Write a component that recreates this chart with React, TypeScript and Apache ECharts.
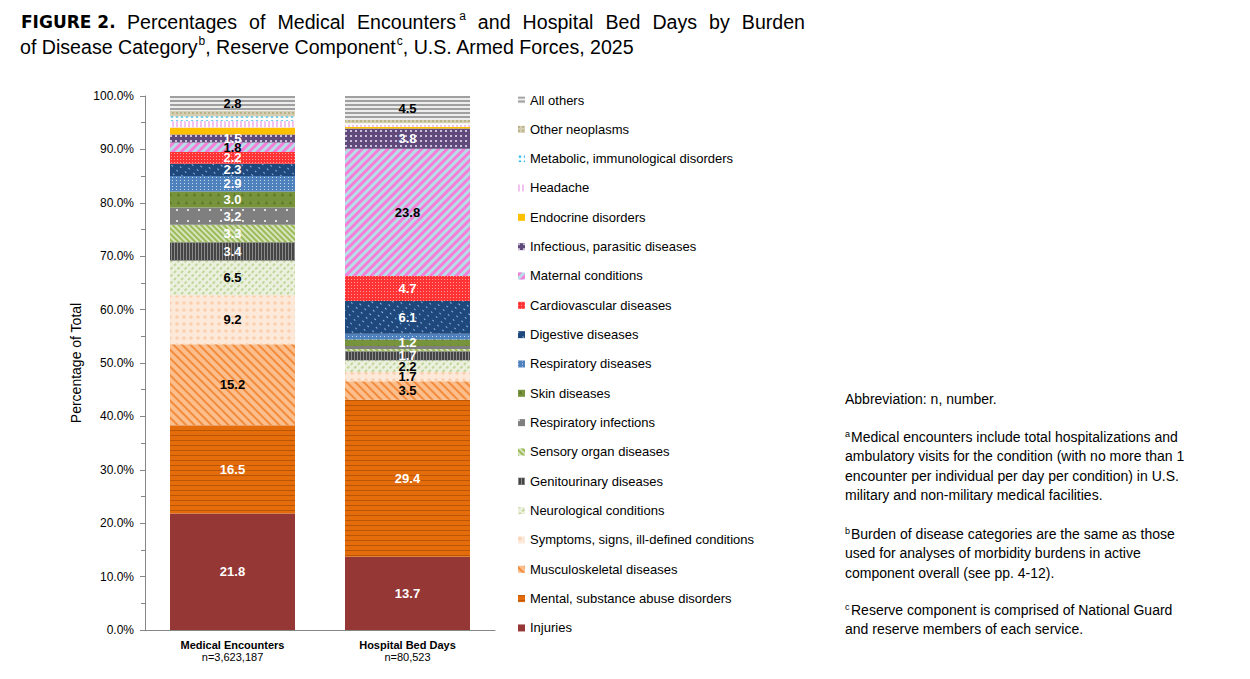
import React, { useEffect, useRef } from 'react';
import * as echarts from 'echarts';

// ---------- DATA ----------
const barCategories = ['Medical Encounters', 'Hospital Bed Days'];
const barCounts = ['n=3,623,187', 'n=80,523'];

// bottom of the stack first
const burdenCategories = [
  'Injuries',
  'Mental, substance abuse disorders',
  'Musculoskeletal diseases',
  'Symptoms, signs, ill-defined conditions',
  'Neurological conditions',
  'Genitourinary diseases',
  'Sensory organ diseases',
  'Respiratory infections',
  'Skin diseases',
  'Respiratory diseases',
  'Digestive diseases',
  'Cardiovascular diseases',
  'Maternal conditions',
  'Infectious, parasitic diseases',
  'Endocrine disorders',
  'Headache',
  'Metabolic, immunological disorders',
  'Other neoplasms',
  'All others',
];

const medicalEncounters = [21.8, 16.5, 15.2, 9.2, 6.5, 3.4, 3.3, 3.2, 3.0, 2.9, 2.3, 2.2, 1.8, 1.5, 1.3, 1.2, 0.9, 1.0, 2.8];
const hospitalBedDays = [13.7, 29.4, 3.5, 1.7, 2.2, 1.7, 0.4, 0.6, 1.2, 1.1, 6.1, 4.7, 23.8, 3.8, 0.3, 0.4, 0.3, 0.6, 4.5];

const unlabeledCategories = ['Endocrine disorders', 'Headache', 'Metabolic, immunological disorders', 'Other neoplasms'];
const blackLabelCategories = ['Musculoskeletal diseases', 'Symptoms, signs, ill-defined conditions', 'Neurological conditions', 'Maternal conditions', 'All others'];

const titleLine1Words = ['Percentages', 'of', 'Medical', 'Encounters', '^a', 'and', 'Hospital', 'Bed', 'Days', 'by', 'Burden'];
const titleLine2Parts = ['of Disease Category', '^b', ', Reserve Component', '^c', ', U.S. Armed Forces, 2025'];

const notes = [
  { sup: '', lines: ['Abbreviation: n, number.'] },
  {
    sup: 'a',
    lines: [
      'Medical encounters include total hospitalizations and',
      'ambulatory visits for the condition (with no more than 1',
      'encounter per individual per day per condition) in U.S.',
      'military and non-military medical facilities.',
    ],
  },
  {
    sup: 'b',
    lines: [
      'Burden of disease categories are the same as those',
      'used for analyses of morbidity burdens in active',
      'component overall (see pp. 4-12).',
    ],
  },
  { sup: 'c', lines: ['Reserve component is comprised of National Guard', 'and reserve members of each service.'] },
];

// ---------- STYLES ----------
const FONT = '"Liberation Sans", Arial, sans-serif';
const PI = Math.PI;

const styles: Record<string, { color: string; decal?: any }> = {
  'Injuries': { color: '#953735' },
  'Mental, substance abuse disorders': { color: '#E46C0A', decal: { color: '#B95607', dashArrayX: [1, 0], dashArrayY: [1, 4] } },
  'Musculoskeletal diseases': { color: '#FBBE8C', decal: { color: '#F28C3C', dashArrayX: [1, 0], dashArrayY: [1.8, 3.5], rotation: PI / 4 } },
  'Symptoms, signs, ill-defined conditions': { color: '#FDE9D9', decal: { symbol: 'circle', color: '#FBD0B0', symbolSize: 0.9, dashArrayX: [4, 3], dashArrayY: [4, 3] } },
  'Neurological conditions': { color: '#EBF1DE', decal: { color: '#C3D69B', dashArrayX: [3, 2], dashArrayY: [1.5, 3], rotation: -PI / 4 } },
  'Genitourinary diseases': { color: '#454545', decal: { color: '#8A8A8A', dashArrayX: [1, 2], dashArrayY: [4, 0] } },
  'Sensory organ diseases': { color: '#D7E4BD', decal: { color: '#9BBB59', dashArrayX: [1, 0], dashArrayY: [1.2, 2], rotation: PI / 4 } },
  'Respiratory infections': { color: '#7F7F7F', decal: { color: '#E0E0E0', dashArrayX: [1.5, 8.5], dashArrayY: [1.5, 8.5] } },
  'Skin diseases': { color: '#77933C', decal: { symbol: 'triangle', color: '#5E7A28', symbolSize: 0.7, dashArrayX: [5, 3], dashArrayY: [5, 3] } },
  'Respiratory diseases': { color: '#4F81BD', decal: { color: '#C5D9F1', dashArrayX: [1, 3], dashArrayY: [1, 2] } },
  'Digestive diseases': { color: '#1F497D', decal: { color: '#8DB4E2', dashArrayX: [2, 5], dashArrayY: [1, 4], rotation: PI / 4 } },
  'Cardiovascular diseases': { color: '#FF3333', decal: { color: '#FF9A9A', dashArrayX: [1, 2], dashArrayY: [1, 2] } },
  'Maternal conditions': { color: '#B7DEE8', decal: { color: '#F57FD8', dashArrayX: [1, 0], dashArrayY: [2.5, 3], rotation: -PI / 4 } },
  'Infectious, parasitic diseases': { color: '#604A7B', decal: { color: '#CCC0DA', dashArrayX: [2, 3], dashArrayY: [2, 3] } },
  'Endocrine disorders': { color: '#FFC000' },
  'Headache': { color: '#FFFFFF', decal: { color: '#F4C2EE', dashArrayX: [1.5, 2], dashArrayY: [4, 0] } },
  'Metabolic, immunological disorders': { color: '#FFFFFF', decal: { symbol: 'circle', color: '#33BDF2', symbolSize: 0.9, dashArrayX: [4, 1], dashArrayY: [3, 2] } },
  'Other neoplasms': { color: '#D4CFB2', decal: { color: '#B9B187', dashArrayX: [2, 2], dashArrayY: [2, 2] } },
  'All others': { color: '#EDEDED', decal: { color: '#A0A0A0', dashArrayX: [1, 0], dashArrayY: [1.5, 1.5] } },
};

function mkDecal(d: any) {
  if (!d) return undefined;
  return { symbol: 'rect', symbolSize: 1, maxTileWidth: 128, maxTileHeight: 128, ...d };
}

let measureCtx: CanvasRenderingContext2D | null = null;
function textWidth(text: string, font: string) {
  if (!measureCtx) measureCtx = document.createElement('canvas').getContext('2d');
  measureCtx!.font = font;
  return measureCtx!.measureText(text).width;
}

function buildGraphics() {
  const els: any[] = [];
  const titleFont = `19.6px ${FONT}`;
  const supFont = `12px ${FONT}`;
  // FIGURE 2.
  els.push({
    type: 'text', x: 21, y: 22,
    style: { text: 'FIGURE 2.', font: `bold 17px "DejaVu Sans", sans-serif`, fill: '#000', align: 'left', verticalAlign: 'middle' },
  });
  // line 1 justified between 127 and 805
  const x0 = 127, x1 = 805;
  const widths = titleLine1Words.map((w) => (w.startsWith('^') ? textWidth(w.slice(1), supFont) + 3 : textWidth(w, titleFont)));
  const total = widths.reduce((a, b) => a + b, 0);
  const nGaps = titleLine1Words.filter((w) => !w.startsWith('^')).length - 1;
  const gap = (x1 - x0 - total) / nGaps;
  let x = x0;
  titleLine1Words.forEach((w, i) => {
    if (w.startsWith('^')) {
      els.push({ type: 'text', x: x - gap + 3, y: 16, style: { text: w.slice(1), font: supFont, fill: '#000', align: 'left', verticalAlign: 'middle' } });
      x += widths[i];
    } else {
      els.push({ type: 'text', x, y: 22, style: { text: w, font: titleFont, fill: '#000', align: 'left', verticalAlign: 'middle' } });
      x += widths[i] + gap;
    }
  });
  // line 2
  let x2 = 20;
  titleLine2Parts.forEach((p) => {
    if (p.startsWith('^')) {
      const t = p.slice(1);
      els.push({ type: 'text', x: x2 + 1, y: 41, style: { text: t, font: supFont, fill: '#000', align: 'left', verticalAlign: 'middle' } });
      x2 += textWidth(t, supFont) + 1;
    } else {
      els.push({ type: 'text', x: x2, y: 47, style: { text: p, font: titleFont, fill: '#000', align: 'left', verticalAlign: 'middle' } });
      x2 += textWidth(p, titleFont);
    }
  });
  // notes
  const noteFont = `14px ${FONT}`;
  const noteSup = `9px ${FONT}`;
  const noteStarts = [399, 437, 534, 610];
  const lh = 19.3;
  notes.forEach((n, k) => {
    n.lines.forEach((line, j) => {
      const y = noteStarts[k] + j * lh;
      let lx = 845;
      if (j === 0 && n.sup) {
        els.push({ type: 'text', x: 845, y: y - 3, style: { text: n.sup, font: noteSup, fill: '#000', align: 'left', verticalAlign: 'middle' } });
        lx = 851;
      }
      els.push({ type: 'text', x: lx, y, style: { text: line, font: noteFont, fill: '#000', align: 'left', verticalAlign: 'middle' } });
    });
  });
  return els;
}

function buildOption(): any {
  const series = burdenCategories.map((name, i) => {
    const st = styles[name];
    const labelColor = blackLabelCategories.includes(name) ? '#000' : '#fff';
    return {
      name,
      type: 'bar',
      stack: 'total',
      barWidth: 125,
      emphasis: { disabled: true },
      itemStyle: { color: st.color, decal: mkDecal(st.decal) },
      label: {
        show: true,
        position: 'inside',
        color: labelColor,
        fontFamily: FONT,
        fontWeight: 'bold',
        fontSize: 13,
        formatter: (p: any) => Number(p.value).toFixed(1),
      },
      data: [medicalEncounters[i], hospitalBedDays[i]].map((v) => ({
        value: v,
        label: { show: !unlabeledCategories.includes(name) && v >= 1.15 },
      })),
    };
  });

  return {
    animation: false,
    backgroundColor: '#fff',
    textStyle: { fontFamily: FONT },
    grid: { left: 145, top: 96, width: 350, height: 534, containLabel: false },
    legend: {
      orient: 'vertical',
      left: 513,
      top: 87,
      itemWidth: 7,
      itemHeight: 7,
      itemGap: 13.33,
      icon: 'rect',
      selectedMode: false,
      data: [...burdenCategories].reverse(),
      textStyle: { fontFamily: FONT, fontSize: 13, color: '#000', lineHeight: 16 },
    },
    xAxis: {
      type: 'category',
      data: barCategories,
      axisLine: { show: true, lineStyle: { color: '#868686', width: 1 } },
      axisTick: { show: false },
      axisLabel: {
        margin: 9,
        interval: 0,
        formatter: (v: string, i: number) => `{b|${v}}\n{n|${barCounts[i]}}`,
        rich: {
          b: { fontFamily: FONT, fontWeight: 'bold', fontSize: 11, lineHeight: 12, color: '#000' },
          n: { fontFamily: FONT, fontSize: 11, lineHeight: 12, color: '#000' },
        },
      },
    },
    yAxis: {
      type: 'value',
      min: 0,
      max: 100,
      interval: 10,
      name: 'Percentage of Total',
      nameLocation: 'middle',
      nameGap: 62,
      nameTextStyle: { fontFamily: FONT, fontSize: 14, color: '#000' },
      axisLine: { show: true, lineStyle: { color: '#868686', width: 1 } },
      axisTick: { show: true, inside: false, length: 5, lineStyle: { color: '#868686' } },
      minorTick: { show: true, splitNumber: 2, length: 4, lineStyle: { color: '#868686' } },
      splitLine: { show: false },
      axisLabel: {
        margin: 11,
        fontFamily: FONT,
        fontSize: 12,
        color: '#000',
        formatter: (v: number) => v.toFixed(1) + '%',
      },
    },
    series,
    graphic: buildGraphics(),
  };
}

export default function App() {
  const ref = useRef<HTMLDivElement>(null);
  useEffect(() => {
    if (!ref.current) return;
    const chart = echarts.init(ref.current, undefined, { renderer: 'svg' });
    chart.setOption(buildOption());
    return () => chart.dispose();
  }, []);
  return <div ref={ref} style={{ position: 'fixed', left: 0, top: 0, width: 1250, height: 679, background: '#fff' }} />;
}
